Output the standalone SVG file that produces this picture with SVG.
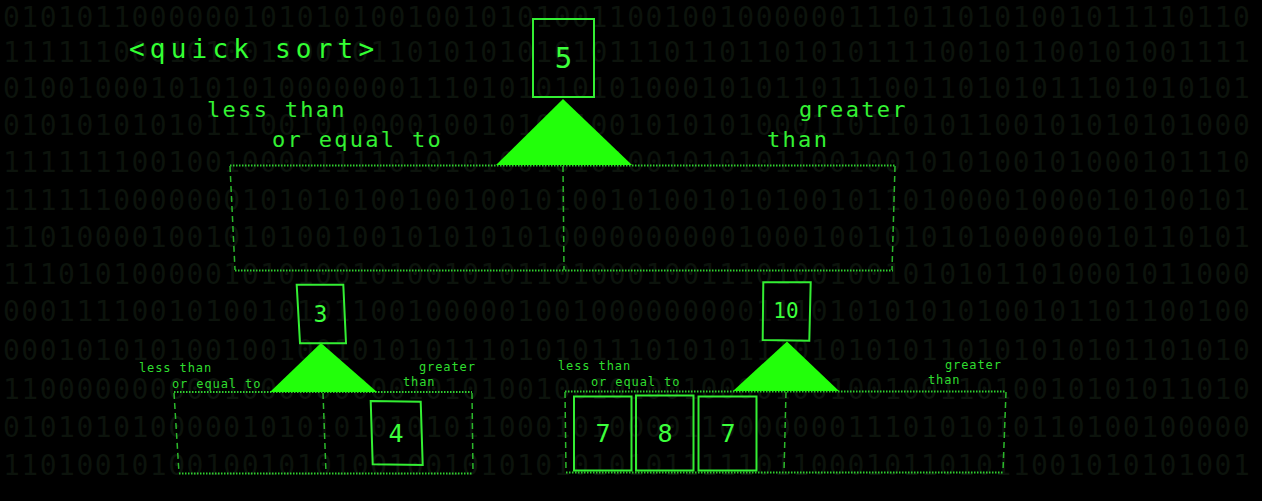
<svg xmlns="http://www.w3.org/2000/svg" width="1262" height="501" viewBox="0 0 1262 501">
<style>
.bg{font-family:"DejaVu Sans Mono","Liberation Mono",monospace;font-size:28px;letter-spacing:1.5px;fill:#0c130c}
.title{font-family:"DejaVu Sans Mono","Liberation Mono",monospace;font-size:26px;letter-spacing:5.2px;fill:#33ff33}
.lbl{font-family:"DejaVu Sans Mono","Liberation Mono",monospace;font-size:22px;letter-spacing:2.3px;fill:#33f033}
.slbl{font-family:"DejaVu Sans Mono","Liberation Mono",monospace;font-size:12px;letter-spacing:0.9px;fill:#2fdc2f}
.dig{font-family:"DejaVu Sans Mono","Liberation Mono",monospace;fill:#3cff3c;text-anchor:middle}
.card{fill:none;stroke:#33ee33;stroke-width:2}
.tri{fill:#22ff0a}
.hd{fill:none;stroke:#2fcf2f;stroke-width:2;stroke-dasharray:1.5 1.5}
.vd{fill:none;stroke:#2bb82b;stroke-width:1.5;stroke-dasharray:6 4}
</style>
<rect width="1262" height="501" fill="#000"/>
<g id="background">
<text class="bg" x="3" y="27">01010110000001010101001001010100110010010000001110110101001011110110</text>
<text class="bg" x="3" y="62">11111100010100110010110101010101011101101101010111100101100101001111</text>
<text class="bg" x="3" y="98">01001000101010100000001110101010101000101011011100110101011101010101</text>
<text class="bg" x="3" y="135">01010101010111001010000100101001001010101000110110101100101010101000</text>
<text class="bg" x="3" y="172">11111110010010000111101010100101010010101011001001010100101000101110</text>
<text class="bg" x="3" y="210">11111100000001010101001001001010010100101010010110100001000010100101</text>
<text class="bg" x="3" y="247">11010000100101010010010101010100000000001000100101010100000010110101</text>
<text class="bg" x="3" y="284">11101010000010101001010010101101000100111010010010101011010001011000</text>
<text class="bg" x="3" y="321">00011110010100101011001000001001000000000111010101010100101101100100</text>
<text class="bg" x="3" y="360">00010101010010010010101011101010111010101110101010110101010101101010</text>
<text class="bg" x="3" y="399">11000000000010000000001010100100101001000010010010011010010101011010</text>
<text class="bg" x="3" y="437">01010101000001010101010101100010100001100000001110101010110100100000</text>
<text class="bg" x="3" y="475">11010010100100101010010010101010101011111011000101101011001010101001</text>
</g>
<g id="title">
<text class="title" x="129" y="58">&lt;quick sort&gt;</text>
</g>
<g id="connectors">
<path class="hd" d="M230 165.5 H895 M235 270.5 H893"/>
<path class="vd" d="M230 166 L235 270 M895 166 L892 270 M563 166 L564 270"/>
<path class="hd" d="M174 392 H472 M179 473.5 H473"/>
<path class="vd" d="M174 393 L179 473 M472 393 L473 473 M323 393 L326 473"/>
<path class="hd" d="M565 391.5 H1006 M566 472.5 H1003"/>
<path class="vd" d="M565 392 L566 472 M1006 392 L1003 471 M786 392 L784 472"/>
</g>
<g id="pivot5">
<rect class="card" x="533" y="19" width="61" height="78"/>
<text class="dig" x="563.5" y="68" font-size="29">5</text>
<polygon class="tri" points="563,99 632,165 496,165"/>
<text class="lbl" x="207" y="117">less than</text>
<text class="lbl" x="272" y="147">or equal to</text>
<text class="lbl" x="799" y="117">greater</text>
<text class="lbl" x="767" y="147">than</text>
</g>
<g id="pivot3">
<polygon class="card" points="296.7,284.7 343.3,284.7 346,343.3 300,343.3"/>
<text class="dig" x="320.5" y="321.5" font-size="23">3</text>
<polygon class="tri" points="321,343 377,392 270,392"/>
<text class="slbl" x="139" y="372">less than</text>
<text class="slbl" x="172" y="388">or equal to</text>
<text class="slbl" x="419" y="371">greater</text>
<text class="slbl" x="403" y="386">than</text>
</g>
<g id="card4">
<polygon class="card" points="370.7,401 420.7,401.7 422.7,465 372.7,464.3"/>
<text class="dig" x="396" y="442" font-size="25">4</text>
</g>
<g id="pivot10">
<polygon class="card" points="763.3,282.3 810.7,282.3 809.3,340.7 762.7,340"/>
<text class="dig" x="786" y="318" font-size="21">10</text>
<polygon class="tri" points="787,341.5 839,391 733,391"/>
<text class="slbl" x="558" y="370">less than</text>
<text class="slbl" x="591" y="386">or equal to</text>
<text class="slbl" x="945" y="369">greater</text>
<text class="slbl" x="928" y="384">than</text>
</g>
<g id="card7a">
<rect class="card" x="574" y="396.5" width="57.5" height="74"/>
<text class="dig" x="603" y="442" font-size="25">7</text>
</g>
<g id="card8">
<rect class="card" x="636" y="395.5" width="57.5" height="75"/>
<text class="dig" x="665" y="442" font-size="25">8</text>
</g>
<g id="card7b">
<rect class="card" x="698.5" y="396.5" width="58" height="74"/>
<text class="dig" x="728" y="442" font-size="25">7</text>
</g>
</svg>
